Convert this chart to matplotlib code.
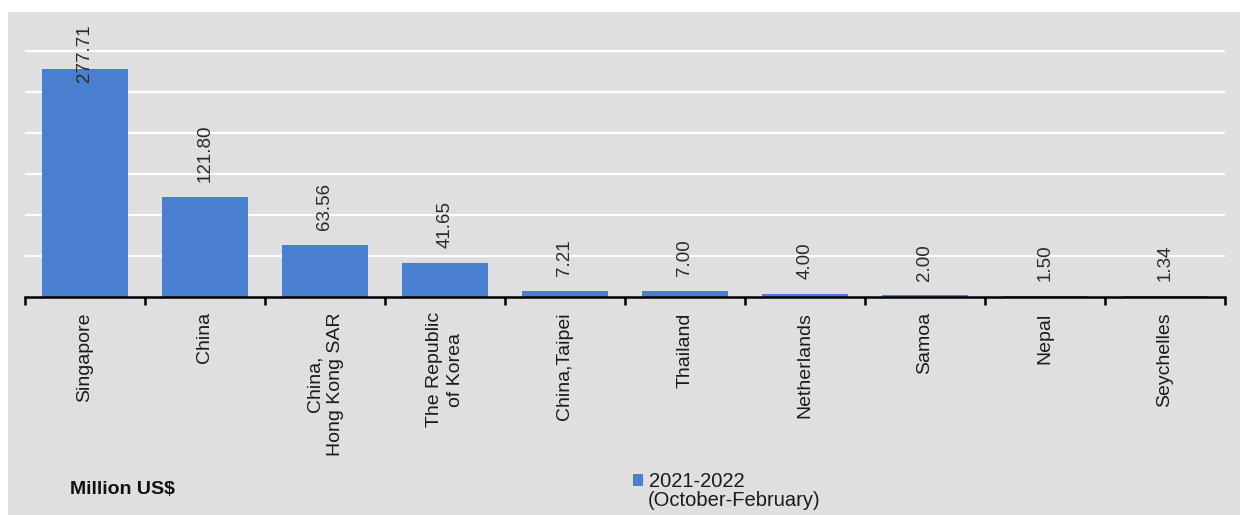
import matplotlib.pyplot as plt
from matplotlib.patches import Rectangle

countries = ['Singapore', 'China', 'China,\nHong Kong SAR', 'The Republic\nof Korea',
             'China,Taipei', 'Thailand', 'Netherlands', 'Samoa', 'Nepal', 'Seychelles']
values = [277.71, 121.80, 63.56, 41.65, 7.21, 7.00, 4.00, 2.00, 1.50, 1.34]
value_labels = ['277.71', '121.80', '63.56', '41.65', '7.21', '7.00', '4.00', '2.00', '1.50', '1.34']
series_name = '2021-2022'
series_note = '(October-February)'
unit_label = 'Million US$'

plt.rcParams['font.family'] = ['Liberation Sans', 'DejaVu Sans']

bar_color = '#4a7fd0'
bg_color = '#dfdfdf'

fig = plt.figure(figsize=(12.49, 5.15), dpi=100)
fig.patch.set_facecolor('white')
# gray panel behind the chart
fig.patches.append(Rectangle((8 / 1249, 0), 1232 / 1249, 1 - 12 / 515,
                             transform=fig.transFigure, facecolor=bg_color,
                             edgecolor='none', zorder=-10))

ax = fig.add_axes([25 / 1249, 1 - 297 / 515, 1200 / 1249, 287 / 515])
ax.set_facecolor('none')

x = list(range(len(countries)))
bars = ax.bar(x, values, width=0.71, color=bar_color, zorder=3, label=series_name)

ax.set_xlim(-0.5, len(countries) - 0.5)
ax.set_ylim(0, 350)
ax.set_yticks([50, 100, 150, 200, 250, 300])
ax.yaxis.grid(True, color='white', linewidth=1.6, zorder=1)
ax.tick_params(axis='y', length=0, labelleft=False)

for s in ['top', 'right', 'left']:
    ax.spines[s].set_visible(False)
ax.spines['bottom'].set_linewidth(1.8)
ax.spines['bottom'].set_zorder(4)

# ticks at category boundaries
ax.set_xticks([i - 0.5 for i in range(len(countries) + 1)], minor=True)
ax.tick_params(axis='x', which='minor', length=6, width=1.8, direction='out')
ax.set_xticks(x)
ax.tick_params(axis='x', which='major', length=0, pad=11)
ax.set_xticklabels(countries, rotation=90, fontsize=14, va='top', ha='center',
                   multialignment='center', linespacing=1.25, color='#1a1a1a')

for xi, v, lab in zip(x, values, value_labels):
    ax.text(xi, min(v + 18, 262), lab, rotation=90, ha='center', va='bottom',
            fontsize=13.5, color='#2a2a2a', zorder=5)

fig.text(70 / 1249, 1 - 490 / 515, unit_label, fontsize=14, fontweight='bold',
         va='center', ha='left', color='#111111')

leg = fig.legend(handles=[bars], labels=[series_name], loc='upper left',
                 bbox_to_anchor=(633 / 1249, 1 - 472 / 515), frameon=False,
                 fontsize=14.5, handlelength=0.5, handleheight=0.5, handletextpad=0.3,
                 borderpad=0, borderaxespad=0)
for t in leg.get_texts():
    t.set_color('#1a1a1a')
fig.text(648 / 1249, 1 - 491 / 515, series_note, fontsize=14.5, va='top',
         ha='left', color='#1a1a1a')

fig.savefig('out.png', dpi=100)
